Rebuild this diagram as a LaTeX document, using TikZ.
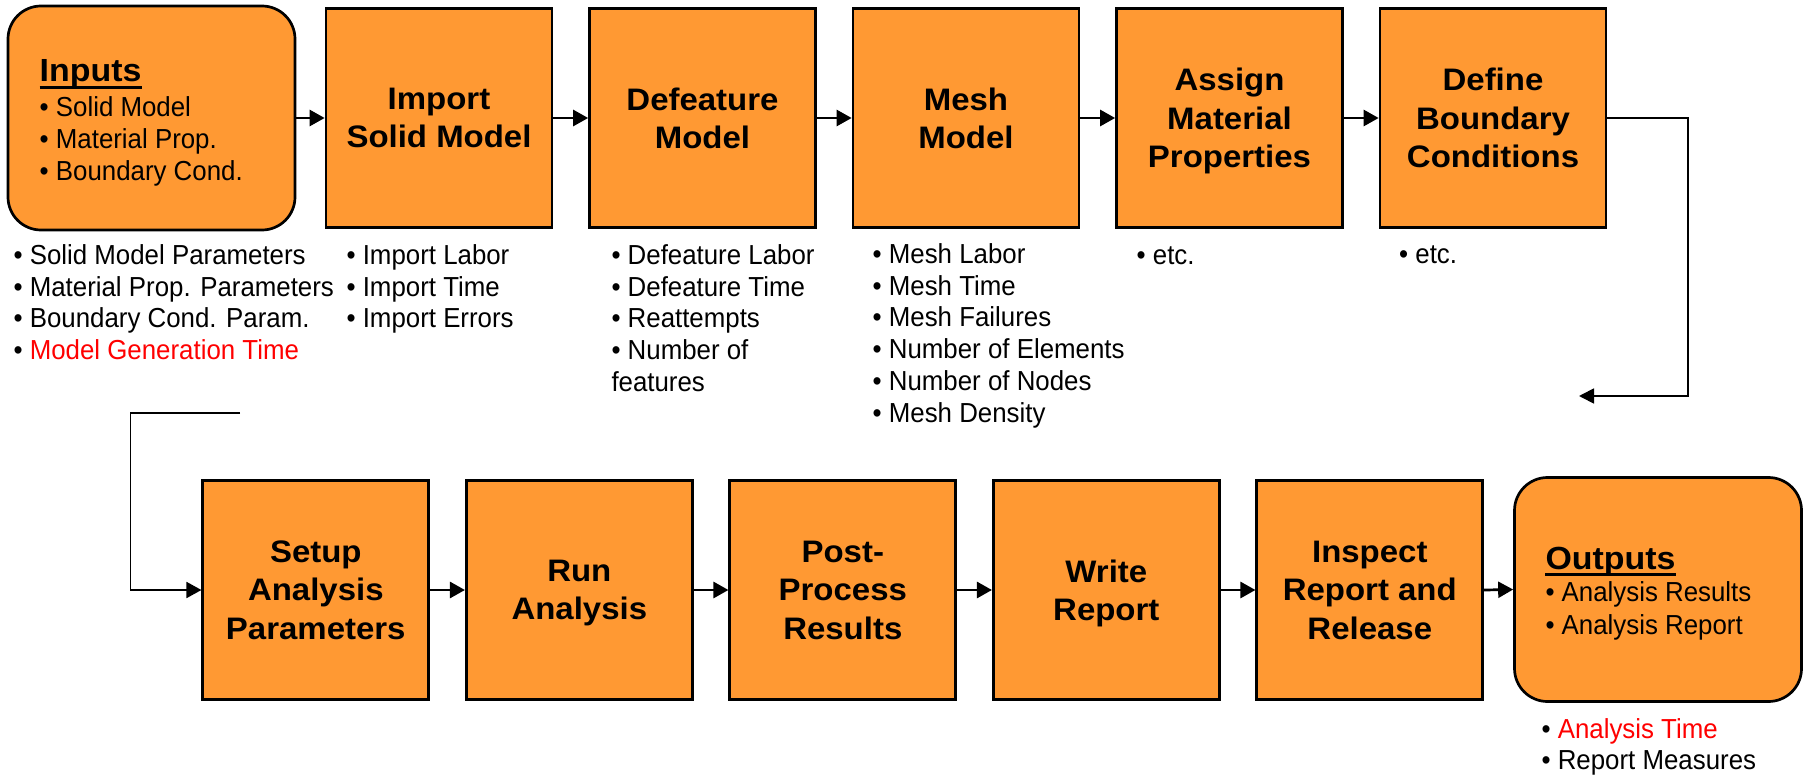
\documentclass[tikz,border=0pt]{standalone}
\usepackage{fontspec}
\setmainfont{Liberation Sans}
\newfontfamily\narrowsans{Liberation Sans}[FakeStretch=0.94]
\newfontfamily\widesans{Liberation Sans}[FakeStretch=1.06]
\usetikzlibrary{arrows.meta}
\definecolor{boxorange}{HTML}{FF9933}
\definecolor{noteRed}{HTML}{FF0000}
\newcommand\notefont{\narrowsans\fontsize{27.5}{31.7}\selectfont}
\newcommand\titlefont{\widesans\bfseries\fontsize{31.1}{38.3}\selectfont}
\newcommand\headfont{\widesans\bfseries\fontsize{32}{38}\selectfont}

\begin{document}
\begin{tikzpicture}[x=1pt,y=-1pt,
  stepbox/.style={draw, line width=2.7pt, fill=boxorange, minimum width=226pt,
    minimum height=219pt, inner sep=0pt, align=center, font=\titlefont,
    text depth=-8pt},
  endbox/.style={draw, line width=2.7pt, fill=boxorange, rounded corners=33pt,
    minimum width=287pt, minimum height=224pt, inner sep=0pt},
  note/.style={anchor=base west, inner sep=0pt, font=\notefont},
  head/.style={anchor=base west, inner sep=0pt, font=\headfont},
  flow/.style={line width=2.7pt, -{Triangle[length=15pt,width=16pt]}},
  loopline/.style={line width=1.8pt},
  uline/.style={line width=2.7pt},
]
\useasboundingbox[fill=white] (0,0) rectangle (1805,776);

% ---------- top row ----------
\node[endbox] (inp) at (151.5,118) {};
\node[stepbox] (imp) at (439,118) {Import\\Solid Model};
\node[stepbox] (def) at (702.5,118) {Defeature\\Model};
\node[stepbox] (msh) at (966,118) {Mesh\\Model};
\node[stepbox] (asg) at (1229.5,118) {Assign\\Material\\Properties};
\node[stepbox] (bnd) at (1493,118) {Define\\Boundary\\Conditions};

% inputs box contents
\node[head] (inhead) at (39.5,81.7) {Inputs};
\draw[uline] ([yshift=-5.5pt]inhead.base west) -- ([yshift=-5.5pt]inhead.base east);
\node[note] (inb1) at (39.5,116.7) {• Solid Model};
\node[note] (inb2) at (39.5,148.4) {• Material Prop.};
\node[note] (inb3) at (39.5,180.1) {• Boundary Cond.};

% ---------- bottom row ----------
\node[stepbox] (set) at (315.8,590) {Setup\\Analysis\\Parameters};
\node[stepbox] (run) at (579.3,590) {Run\\Analysis};
\node[stepbox] (pst) at (842.8,590) {Post-\\Process\\Results};
\node[stepbox] (wrt) at (1106.3,590) {Write\\Report};
\node[stepbox] (ins) at (1369.8,590) {Inspect\\Report and\\Release};
\node[endbox] (out) at (1658,589.5) {};

% outputs box contents
\node[head] (outhead) at (1545.3,569.3) {Outputs};
\draw[uline] ([yshift=-5pt]outhead.base west) -- ([yshift=-5pt]outhead.base east);
\node[note] (outb1) at (1545.3,601.7) {• Analysis Results};
\node[note] (outb2) at (1545.3,634) {• Analysis Report};

% ---------- measures listed under each step ----------
\foreach \t [count=\k] in {Solid Model Parameters, Material Prop. Parameters, Boundary Cond. Param.}
  \node[note] (inpm\k) at (13.4,{264.5+31.7*(\k-1)}) {• \t};
\node[note] (inpm4) at (13.4,359.6) {• \textcolor{noteRed}{Model Generation Time}};

\foreach \t [count=\k] in {Import Labor, Import Time, Import Errors}
  \node[note] (impm\k) at (346.4,{264.5+31.7*(\k-1)}) {• \t};

\foreach \t [count=\k] in {Defeature Labor, Defeature Time, Reattempts, Number of}
  \node[note] (defm\k) at (611.3,{264.5+31.7*(\k-1)}) {• \t};
\node[note] (defm5) at (611.3,391.3) {features};

\foreach \t [count=\k] in {Mesh Labor, Mesh Time, Mesh Failures, Number of Elements, Number of Nodes, Mesh Density}
  \node[note] (mshm\k) at (872.5,{263.5+31.7*(\k-1)}) {• \t};

\node[note] (asgm1) at (1136.5,264.5) {• etc.};
\node[note] (bndm1) at (1399,263.5) {• etc.};

\node[note] (outm1) at (1541.4,738.3) {• \textcolor{noteRed}{Analysis Time}};
\node[note] (outm2) at (1541.4,769.3) {• Report Measures};

% ---------- flow arrows ----------
\draw[flow] (inp) -- (imp);
\draw[flow] (imp) -- (def);
\draw[flow] (def) -- (msh);
\draw[flow] (msh) -- (asg);
\draw[flow] (asg) -- (bnd);

\draw[flow] (set) -- (run);
\draw[flow] (run) -- (pst);
\draw[flow] (pst) -- (wrt);
\draw[flow] (wrt) -- (ins);
\draw[flow] (ins.east) -- (out.west);

% return path from the first row to the second
\coordinate (turnA) at (1688,396);
\coordinate (tipA) at (1579,396);
\draw[loopline, -{Triangle[length=15pt,width=15pt]}] (bnd.east) -| (turnA) -- (tipA);

\coordinate (startB) at (240,413.3);
\coordinate (turnB) at (130.5,413.3);
\draw[loopline, -{Triangle[length=15pt,width=16pt]}] (startB) -- (turnB) |- (set.west);
\end{tikzpicture}
\end{document}
